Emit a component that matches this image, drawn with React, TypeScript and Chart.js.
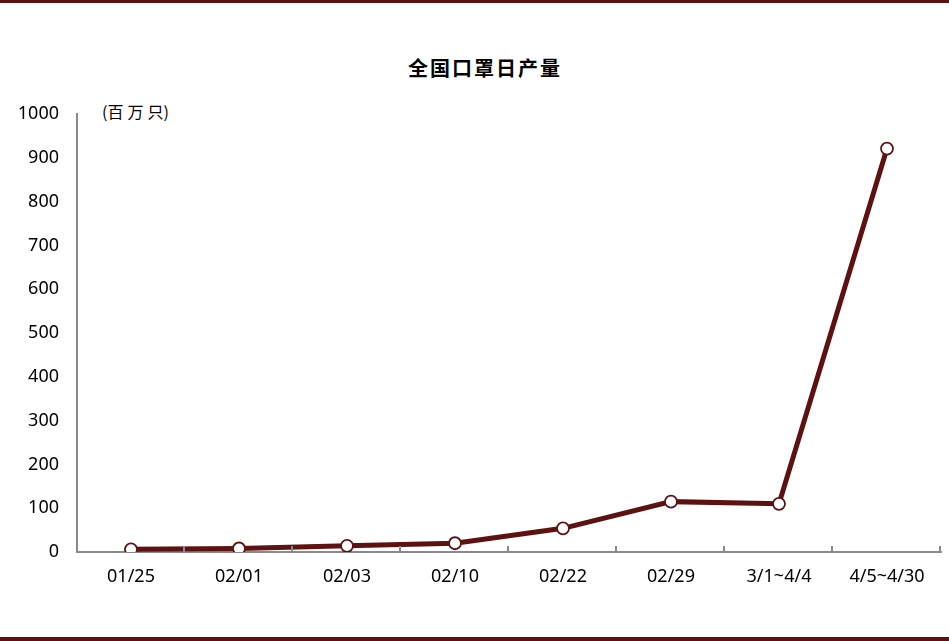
import { useEffect, useRef } from "react";
import { Chart, registerables } from "chart.js";
import type { Plugin } from "chart.js";

Chart.register(...registerables);

const categories = ["01/25", "02/01", "02/03", "02/10", "02/22", "02/29", "3/1~4/4", "4/5~4/30"];
const dailyOutput = [6, 8, 14, 20, 54, 115, 110, 921];
const yTicks = { min: 0, max: 1000, step: 100 };

const LINE = "#5e1111";
const AXIS = "#8a8a8a";

// short tick marks pointing up into the plot at the category boundaries
const innerTicks: Plugin<"line"> = {
  id: "innerTicks",
  afterDraw(chart) {
    const { ctx, chartArea } = chart;
    const n = categories.length;
    const step = (chartArea.right - chartArea.left) / n;
    ctx.save();
    ctx.strokeStyle = AXIS;
    ctx.lineWidth = 2;
    for (let i = 1; i <= n; i++) {
      const x = Math.round(chartArea.left + i * step) - 1;
      ctx.beginPath();
      ctx.moveTo(x, chartArea.bottom);
      ctx.lineTo(x, chartArea.bottom - 6);
      ctx.stroke();
    }
    ctx.restore();
  },
};

const MaskChart = () => {
  const canvasRef = useRef<HTMLCanvasElement | null>(null);
  const chartRef = useRef<Chart | null>(null);

  useEffect(() => {
    if (!canvasRef.current) return;
    if (chartRef.current) chartRef.current.destroy();

    chartRef.current = new Chart(canvasRef.current, {
      type: "line",
      data: {
        labels: categories,
        datasets: [
          {
            label: "全国口罩日产量",
            data: dailyOutput,
            borderColor: LINE,
            borderWidth: 5,
            pointRadius: 6,
            pointBorderWidth: 1.8,
            pointBackgroundColor: "#ffffff",
            pointBorderColor: LINE,
            tension: 0,
          },
        ],
      },
      options: {
        responsive: true,
        maintainAspectRatio: false,
        animation: false,
        layout: { padding: { top: 114, right: 8, left: 0, bottom: 0 } },
        plugins: {
          legend: { display: false },
          tooltip: { enabled: false },
        },
        scales: {
          x: {
            offset: true,
            grid: { display: false, drawTicks: false },
            border: { color: AXIS, width: 2 },
            ticks: {
              color: "#000",
              padding: 14,
              maxRotation: 0,
              font: { family: "'Noto Sans'", size: 18 },
            },
            afterFit: (scale) => {
              scale.height = 89;
            },
          },
          y: {
            min: yTicks.min,
            max: yTicks.max,
            grid: { display: false, drawTicks: false },
            border: { color: AXIS, width: 2 },
            ticks: {
              stepSize: yTicks.step,
              color: "#000",
              padding: 18,
              font: { family: "'Noto Sans'", size: 18 },
              callback: (v) => String(v),
            },
            afterFit: (scale) => {
              scale.width = 77;
            },
          },
        },
      },
      plugins: [innerTicks],
    });

    return () => {
      if (chartRef.current) {
        chartRef.current.destroy();
        chartRef.current = null;
      }
    };
  }, []);

  return (
    <div
      style={{
        position: "absolute",
        left: 0,
        top: 0,
        width: 949,
        height: 641,
        background: "#fff",
        overflow: "hidden",
      }}
    >
      <div style={{ position: "absolute", left: 0, top: 0, width: 949, height: 3, background: LINE }} />
      <div style={{ position: "absolute", left: 0, bottom: 0, width: 949, height: 4, background: LINE }} />
      <div
        style={{
          position: "absolute",
          left: 0,
          width: 970,
          top: 54,
          textAlign: "center",
          fontFamily: "'Noto Sans CJK SC'",
          fontWeight: 700,
          fontSize: 20,
          letterSpacing: 2,
          color: "#000",
          lineHeight: "28px",
        }}
      >
        全国口罩日产量
      </div>
      <div
        style={{
          position: "absolute",
          left: 102,
          top: 100,
          fontFamily: "'Noto Sans CJK SC'",
          fontSize: 16,
          color: "#000",
          lineHeight: "22px",
          whiteSpace: "nowrap",
        }}
      >
        (<span style={{ letterSpacing: 4 }}>百万</span>只)
      </div>
      <div style={{ position: "absolute", left: 0, top: 0, width: 949, height: 641 }}>
        <canvas ref={canvasRef}></canvas>
      </div>
    </div>
  );
};

export default function App() {
  return <MaskChart />;
}
